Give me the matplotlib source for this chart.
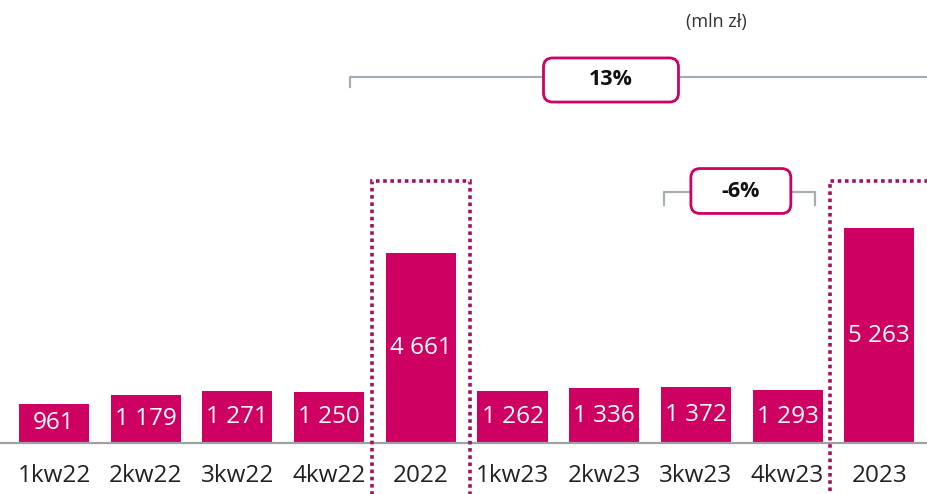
import matplotlib
matplotlib.use("Agg")
import matplotlib.pyplot as plt
import matplotlib.patches as mpatches
import numpy as np

categories = ["1kw22", "2kw22", "3kw22", "4kw22", "2022",
              "1kw23", "2kw23", "3kw23", "4kw23", "2023"]
values = [961, 1179, 1271, 1250, 4661, 1262, 1336, 1372, 1293, 5263]
labels = ["961", "1 179", "1 271", "1 250", "4 661",
          "1 262", "1 336", "1 372", "1 293", "5 263"]
growth_year = "13%"
growth_q4 = "-6%"
unit = "(mln zł)"

PINK = "#CE0062"
DOTS = "#9E1460"
GREY = "#A7AEB3"
FONT = ["Open Sans", "DejaVu Sans"]
plt.rcParams["font.family"] = FONT

fig = plt.figure(figsize=(9.28, 4.94), dpi=100)
ax = fig.add_axes([0, 0, 1, 1])
ax.set_xlim(-0.589, 9.531)
ax.set_ylim(-1250, 10854)
ax.axis("off")

x = np.arange(len(values))
ax.bar(x, values, width=0.765, color=PINK, zorder=2)
ax.axhline(0, color="#A0A0A0", lw=1.6, zorder=3)

for xi, v, lab in zip(x, values, labels):
    ax.text(xi, v / 2, lab, ha="center", va="center", color="white",
            fontsize=17.5, zorder=4)
for xi, cat in zip(x, categories):
    ax.text(xi, -810, cat, ha="center", va="center", color="#222222",
            fontsize=17.5)

# dotted frames around yearly totals
for xi in (4, 9):
    ax.add_patch(mpatches.Rectangle((xi - 0.535, -2000), 1.07, 8420,
                 fill=False, ls=(0, (1, 1)), lw=2.6, ec=DOTS, zorder=5,
                 clip_on=False))

def badge(xc, yc, w, h, text):
    ax.add_patch(mpatches.FancyBboxPatch((xc - w / 2, yc - h / 2), w, h,
                 boxstyle="round,pad=0,rounding_size=0.1",
                 mutation_aspect=2247, fc="white", ec=PINK, lw=2, zorder=6))
    ax.text(xc, yc, text, ha="center", va="center", fontsize=15.5,
            fontweight="bold", color="#111111", zorder=7)

# 2022 -> 2023 bracket
y1 = 8967
ax.plot([3.23, 3.23, 9.7], [y1 - 245, y1, y1], color=GREY, lw=1.6,
        clip_on=True, zorder=1)
badge(6.074, 8894, 1.472, 1080, growth_year)

# 3kw23 -> 4kw23 bracket
y2 = 6150
ax.plot([6.652, 6.652, 8.299, 8.299], [y2 - 320, y2, y2, y2 - 320],
        color=GREY, lw=1.6, zorder=1)
badge(7.49, 6174, 1.09, 1100, growth_q4)

ax.text(7.22, 10315, unit, ha="center", va="center", fontsize=13,
        color="#333333")

fig.savefig("out.png", dpi=100)
